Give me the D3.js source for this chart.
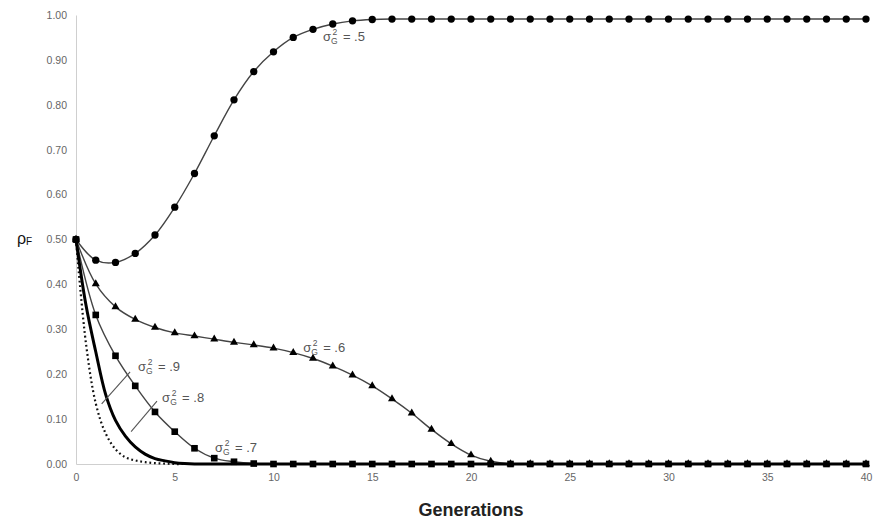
<!DOCTYPE html>
<html>
<head>
<meta charset="utf-8">
<script src="https://cdn.jsdelivr.net/npm/d3@7/dist/d3.min.js"></script>
<style>
  html, body { margin: 0; padding: 0; background: #fff; }
  svg { display: block; font-family: "Liberation Sans", Arial, sans-serif; }
</style>
</head>
<body>
<svg id="chart" width="878" height="524"></svg>
<script>
// ---- data ----
const generations = d3.range(0, 41); // 0..40
const genFine = [0, 0.5, 1, 1.5, 2, 2.5, 3, 3.5, 4, 4.5, 5, 5.5, 6, 7, 8, 9, 10, 11, 12, 13, 14, 15, 16, 17, 18, 19, 20, 21, 22, 23, 24, 25, 26, 27, 28, 29, 30, 31, 32, 33, 34, 35, 36, 37, 38, 39, 40];

const sigma5 = [0.50, 0.454, 0.449, 0.469, 0.510, 0.572, 0.647, 0.731, 0.811, 0.874, 0.918, 0.950, 0.968, 0.980, 0.987, 0.990,
  0.991, 0.991, 0.991, 0.991, 0.991, 0.991, 0.991, 0.991, 0.991, 0.991, 0.991, 0.991, 0.991, 0.991, 0.991, 0.991, 0.991, 0.991, 0.991, 0.991, 0.991, 0.991, 0.991, 0.991, 0.991];
const sigma6 = [0.50, 0.401, 0.350, 0.322, 0.304, 0.292, 0.285, 0.278, 0.271, 0.265, 0.258, 0.248, 0.235, 0.218, 0.198, 0.174, 0.145, 0.113, 0.077, 0.045, 0.020, 0.006,
  0, 0, 0, 0, 0, 0, 0, 0, 0, 0, 0, 0, 0, 0, 0, 0, 0, 0, 0];
const sigma7 = [0.50, 0.332, 0.241, 0.174, 0.116, 0.072, 0.035, 0.013, 0.005, 0.001,
  0, 0, 0, 0, 0, 0, 0, 0, 0, 0, 0, 0, 0, 0, 0, 0, 0, 0, 0, 0, 0, 0, 0, 0, 0, 0, 0, 0, 0, 0, 0];
// values on genFine
const sigma8 = [0.50, 0.355, 0.25, 0.155, 0.097, 0.062, 0.038, 0.022, 0.012, 0.007, 0.003, 0.001, 0, 0, 0, 0, 0, 0, 0, 0, 0, 0, 0, 0, 0, 0, 0, 0, 0, 0, 0, 0, 0, 0, 0, 0, 0, 0, 0, 0, 0, 0, 0, 0, 0, 0, 0];
const sigma9 = [0.50, 0.27, 0.135, 0.068, 0.033, 0.015, 0.008, 0.004, 0.002, 0.001, 0, 0, 0, 0, 0, 0, 0, 0, 0, 0, 0, 0, 0, 0, 0, 0, 0, 0, 0, 0, 0, 0, 0, 0, 0, 0, 0, 0, 0, 0, 0, 0, 0, 0, 0, 0, 0];

const yTicks = [0, 0.1, 0.2, 0.3, 0.4, 0.5, 0.6, 0.7, 0.8, 0.9, 1.0];
const xTicks = [0, 5, 10, 15, 20, 25, 30, 35, 40];

// series labels
const labelTexts = [".5", ".6", ".9", ".8", ".7"];
const labelGen = [12.5, 11.5, 3.14, 4.36, 7.04];
const labelVal = [0.942, 0.249, 0.207, 0.138, 0.027];
const leaderFrom = [null, null, [2.74, 0.205], [4.1, 0.14], null];
const leaderTo = [null, null, [1.3, 0.134], [2.79, 0.072], null];

// ---- chart ----
const svg = d3.select("#chart");
const x = d3.scaleLinear().domain([0, 40]).range([76, 866]);
const y = d3.scaleLinear().domain([0, 1]).range([464, 15]);

// axes
const yAxis = svg.append("g").attr("transform", `translate(${x(0)},0)`)
  .call(d3.axisLeft(y).tickValues(yTicks).tickFormat(d3.format(".2f")).tickSize(0).tickPadding(9));
const xAxis = svg.append("g").attr("transform", `translate(0,${y(0)})`)
  .call(d3.axisBottom(x).tickValues(xTicks).tickFormat(d3.format("d")).tickSize(0).tickPadding(10));
[yAxis, xAxis].forEach(a => {
  a.select(".domain").attr("stroke", "#cfcfcf").attr("stroke-width", 1);
  a.selectAll("text").attr("fill", "#666").attr("font-size", 10.5);
});

const smooth = d3.curveCatmullRom.alpha(0.5);
const lineInt = d3.line().x((d, i) => x(generations[i])).y(d => y(d)).curve(smooth);
const lineFine = d3.line().x((d, i) => x(genFine[i])).y(d => y(d)).curve(smooth);

// thin lines
[sigma5, sigma6, sigma7].forEach(s => {
  svg.append("path").attr("d", lineInt(s)).attr("fill", "none")
    .attr("stroke", "#444").attr("stroke-width", 1.4);
});

// dotted sigma .9
svg.append("path").attr("d", lineFine(sigma9)).attr("fill", "none")
  .attr("stroke", "#111").attr("stroke-width", 2.2).attr("stroke-dasharray", "1.8,2.8");
// thick sigma .8
svg.append("path").attr("d", lineFine(sigma8)).attr("fill", "none")
  .attr("stroke", "#000").attr("stroke-width", 3);

// markers
const sym = [
  [sigma5, d3.symbolCircle, 42],
  [sigma7, d3.symbolSquare, 44],
  [sigma6, d3.symbolTriangle, 28]
];
sym.forEach(([s, type, size]) => {
  svg.append("g").selectAll("path").data(s).join("path")
    .attr("transform", (d, i) => `translate(${x(generations[i])},${y(d)})`)
    .attr("d", d3.symbol().type(type).size(size))
    .attr("fill", "#000");
});

// labels
labelTexts.forEach((t, i) => {
  if (leaderFrom[i]) {
    svg.append("line")
      .attr("x1", x(leaderFrom[i][0])).attr("y1", y(leaderFrom[i][1]))
      .attr("x2", x(leaderTo[i][0])).attr("y2", y(leaderTo[i][1]))
      .attr("stroke", "#555").attr("stroke-width", 1.1);
  }
  const tx = svg.append("text").attr("x", x(labelGen[i])).attr("y", y(labelVal[i]))
    .attr("fill", "#555").attr("font-size", 13);
  tx.append("tspan").text("σ");
  tx.append("tspan").attr("font-size", 8.5).attr("dy", 3).text("G");
  tx.append("tspan").attr("font-size", 8.5).attr("dx", -5).attr("dy", -9).text("2");
  tx.append("tspan").attr("dy", 6).attr("dx", 2).text(" =  " + t);
});

// axis titles
const yt = svg.append("text").attr("x", 17).attr("y", 244).attr("fill", "#111").attr("font-size", 16);
yt.append("tspan").text("ρ");
yt.append("tspan").attr("font-size", 10).attr("dy", 1).text("F");

svg.append("text").attr("x", (x(0) + x(40)) / 2).attr("y", 516)
  .attr("text-anchor", "middle").attr("font-size", 18).attr("font-weight", "bold")
  .attr("fill", "#222").text("Generations");
</script>
</body>
</html>
